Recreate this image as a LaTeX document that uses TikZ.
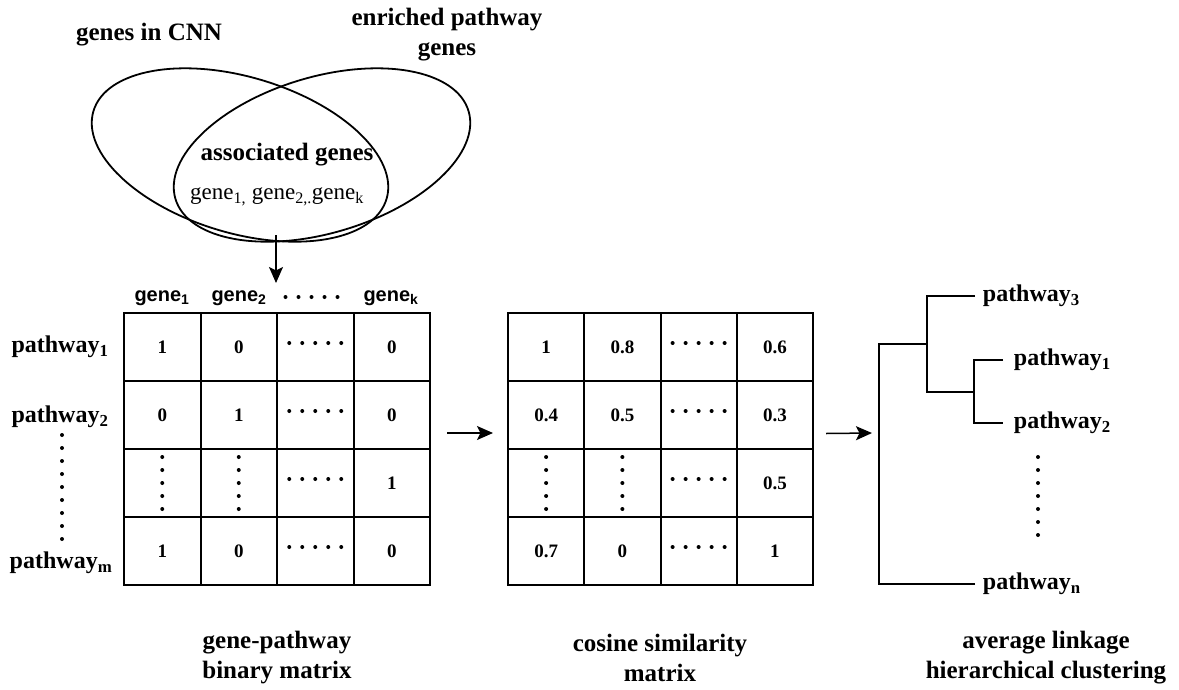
\documentclass[tikz,border=0pt]{standalone}
\usepackage{fontspec}
\setmainfont{Liberation Serif}
\setsansfont{Liberation Sans}
\usetikzlibrary{arrows.meta}

\newcommand{\fs}[1]{\fontsize{#1}{#1}\selectfont}

% one row of four cells: prefix, left x, cell width, row index, four entries
\newcommand{\cellrow}[8]{%
  \node[cell, minimum width=#3] (#1-#4-1) at ({#2+0.5*#3},{313+(#4-0.5)*68}) {#5};
  \node[cell, minimum width=#3] (#1-#4-2) at ({#2+1.5*#3},{313+(#4-0.5)*68}) {#6};
  \node[cell, minimum width=#3] (#1-#4-3) at ({#2+2.5*#3},{313+(#4-0.5)*68}) {#7};
  \node[cell, minimum width=#3] (#1-#4-4) at ({#2+3.5*#3},{313+(#4-0.5)*68}) {#8};
}
% five dots in a row (raised by #1) / in a column around a point
\newcommand{\dotrow}[2]{\foreach \i in {-2,...,2} \fill ([xshift=\i*13pt,yshift=#1]#2) circle[radius=2pt];}
\newcommand{\dotcol}[1]{\foreach \i in {-2,...,2} \fill ([yshift=\i*13pt]#1) circle[radius=2pt];}

\tikzset{
  cell/.style={draw, rectangle, line width=2pt, minimum height=68pt, inner sep=0pt, font=\fs{19}\bfseries},
  venn/.style={line width=1.8pt},
  big/.style={font=\fs{25}\bfseries, align=center},
  rowlab/.style={font=\fs{24}\bfseries, inner sep=0pt},
  head/.style={font=\fs{20}\sffamily\bfseries, inner sep=0pt},
  leaf/.style={font=\fs{24}\bfseries, anchor=west, inner xsep=7pt, inner ysep=0pt},
  arr/.style={-{Stealth[length=16pt,width=14pt,inset=3.5pt]}, line width=1.5pt},
  tree/.style={line width=1.8pt},
}

\begin{document}
\begin{tikzpicture}[x=1pt, y=-1pt, line width=1.8pt]
\useasboundingbox (0,0) rectangle (1179,689);

% ---------- Venn diagram ----------
\draw[venn, rotate around={-16.7:(240,155)}] (240,155) ellipse [x radius=153, y radius=78];
\draw[venn, rotate around={16.7:(322,155)}] (322,155) ellipse [x radius=153, y radius=78];
\node[big] (cnn) at (149,35) {genes in CNN};
\node[big, font=\fontsize{25}{30}\selectfont\bfseries] (enr) at (447,35) {enriched pathway\\genes};
\node[big] (assoc) at (287,155) {associated genes};
\node[font=\fs{23}] (glist) at (277,197) {gene\textsubscript{1,} gene\textsubscript{2,.}gene\textsubscript{k}};

\coordinate (lens) at (276,235);
\coordinate (hdr) at (276,283);
\draw[arr] (lens) -- (hdr);

% ---------- gene-pathway binary matrix ----------
\cellrow{L}{124}{76.5}{1}{1}{0}{}{0}
\cellrow{L}{124}{76.5}{2}{0}{1}{}{0}
\cellrow{L}{124}{76.5}{3}{}{}{}{1}
\cellrow{L}{124}{76.5}{4}{1}{0}{}{0}

\node[head] (h1) at (162,298) {gene\textsubscript{1}};
\node[head] (h2) at (239,298) {gene\textsubscript{2}};
\node[head] (hk) at (391,298) {gene\textsubscript{k}};
\coordinate (hdots) at (311.5,297);
\dotrow{0pt}{hdots}

\node[rowlab] (r1) at (60,347) {pathway\textsubscript{1}};
\node[rowlab] (r2) at (60,417) {pathway\textsubscript{2}};
\node[rowlab] (rm) at (61,563) {pathway\textsubscript{m}};
\foreach \k in {0,...,8} \fill (62,{435+13*\k}) circle[radius=2pt];

\foreach \r in {1,2,3,4} {\dotrow{4pt}{L-\r-3.center}}
\dotcol{L-3-1.center}
\dotcol{L-3-2.center}

% ---------- cosine similarity matrix ----------
\cellrow{M}{508}{76.25}{1}{1}{0.8}{}{0.6}
\cellrow{M}{508}{76.25}{2}{0.4}{0.5}{}{0.3}
\cellrow{M}{508}{76.25}{3}{}{}{}{0.5}
\cellrow{M}{508}{76.25}{4}{0.7}{0}{}{1}

\foreach \r in {1,2,3,4} {\dotrow{4pt}{M-\r-3.center}}
\dotcol{M-3-1.center}
\dotcol{M-3-2.center}

\draw[arr] ([xshift=16pt,yshift=-18pt]L-2-4.east) -- ([xshift=-14pt,yshift=-18pt]M-2-1.west);

% ---------- dendrogram ----------
\node[leaf] (p3) at (975,296) {pathway\textsubscript{3}};
\node[leaf, inner xsep=10pt] (p1) at (1003,360) {pathway\textsubscript{1}};
\node[leaf, inner xsep=10pt] (p2) at (1003,423) {pathway\textsubscript{2}};
\node[leaf] (pn) at (975,584) {pathway\textsubscript{n}};

\coordinate (root) at (879,344);
\coordinate (rootmid) at (879,433);
\coordinate (j2) at (927,344);
\coordinate (j3) at (927,392);
\coordinate (j4) at (974,392);

\draw[tree] (pn.west) -| (root) -- (j2);
\draw[tree] (p3.west) -| (j3) -- (j4);
\draw[tree] (p1.west) -| (j4) |- (p2.west);
\foreach \k in {0,...,6} \fill (1038,{457+13*\k}) circle[radius=2pt];

\draw[arr] ([xshift=12pt,yshift=-18.5pt]M-2-4.east) -- ([xshift=-7pt]rootmid);

% ---------- captions ----------
\node[big, font=\fontsize{25}{30}\selectfont\bfseries] (cap1) at (277,658) {gene-pathway\\binary matrix};
\node[big, font=\fontsize{25}{30}\selectfont\bfseries] (cap2) at (660,658) {cosine similarity\\matrix};
\node[big, font=\fontsize{25}{30}\selectfont\bfseries] (cap3) at (1046,658) {average linkage\\hierarchical clustering};
\end{tikzpicture}
\end{document}
